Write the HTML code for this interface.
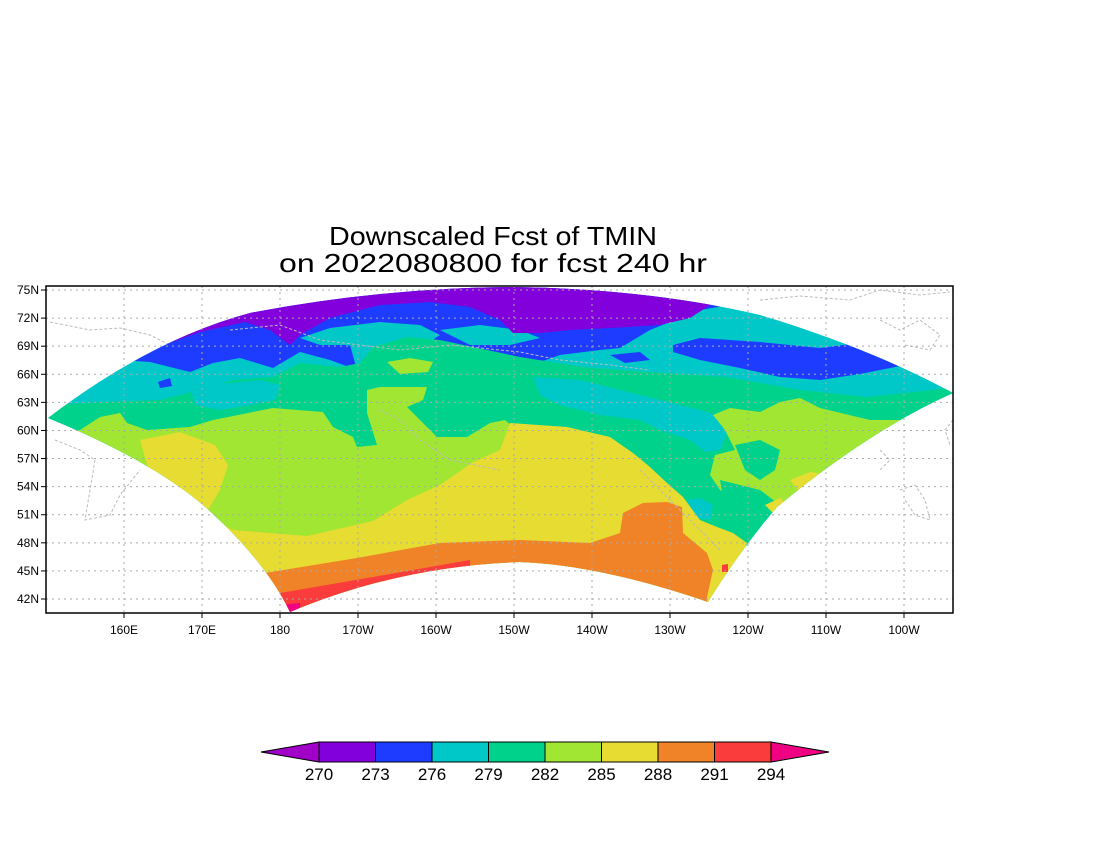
<!DOCTYPE html>
<html><head><meta charset="utf-8"><style>
html,body{margin:0;padding:0;background:#fff;}
svg{display:block;font-family:"Liberation Sans",sans-serif;}
</style></head><body>
<svg id="chart" width="1100" height="850" viewBox="0 0 1100 850" xmlns="http://www.w3.org/2000/svg">
<defs>
<clipPath id="wedge"><path d="M48,418 Q150,340 250,313 Q380,288 513,287 Q650,289 760,315 Q870,348 953,393 Q870,430 777,507 Q740,550 708,602 Q600,565 520,562 Q400,566 290,612 Q265,560 203,505 Q150,460 48,418 Z"/></clipPath>
<clipPath id="frame"><rect x="46" y="286" width="907" height="327"/></clipPath>
</defs>
<text x="493" y="245" font-size="26" text-anchor="middle" textLength="328" lengthAdjust="spacingAndGlyphs">Downscaled Fcst of TMIN</text>
<text x="493" y="272" font-size="26" text-anchor="middle" textLength="428" lengthAdjust="spacingAndGlyphs">on 2022080800 for fcst 240 hr</text>

<g fill="none" stroke="#bbb" stroke-width="1" stroke-dasharray="3,2" clip-path="url(#frame)">
<path d="M50,322 L90,330 L120,328 L150,335 L170,345"/>
<path d="M55,440 L80,450 L95,460 L90,490 L85,520 L110,515 L120,495 L140,470"/>
<path d="M760,300 L800,296 L850,300 L880,290 L920,295 L950,292"/>
<path d="M880,320 L900,330 L920,320 L940,335 L930,350 L905,345"/>
<path d="M953,420 L945,430 L950,445"/>
<path d="M880,450 L890,460 L880,470"/>
<path d="M900,490 L915,485 L925,500 L930,520 L915,515 L905,500"/>
</g>

<g id="map" clip-path="url(#wedge)"></g>

<g id="grid" stroke="#aaa" stroke-width="1" stroke-dasharray="2,4" fill="none"></g>
<rect x="46" y="286" width="907" height="327" fill="none" stroke="#000" stroke-width="1.5"/>
<g id="axes" font-size="12"></g>
<g id="cbar"></g>
</svg>
<script>
const latTicks = [75,72,69,66,63,60,57,54,51,48,45,42];
const lonTicks = [160,170,180,190,200,210,220,230,240,250,260];
const lonLabels = ["160E","170E","180","170W","160W","150W","140W","130W","120W","110W","100W"];
const levels = [270,273,276,279,282,285,288,291,294];
const bandColors = ["#a000c8","#8200dc","#1e3cff","#00c8c8","#00d28c","#a0e632","#e6dc32","#f08228","#fa3c3c","#f00082"];

const NS="http://www.w3.org/2000/svg";
function latToY(lat){return 290+(75-lat)*9.364;}
function lonToX(lon){return 124+(lon-160)*7.8;}
function mk(tag,attrs,parent){const e=document.createElementNS(NS,tag);for(const k in attrs)e.setAttribute(k,attrs[k]);parent.appendChild(e);return e;}

const map=document.getElementById('map');
const regions=[
 ["cyan-base","#00c8c8","M0,250 L1000,250 L1000,650 L0,650 Z"],
 ["blue-north","#1e3cff","M0,250 L1000,250 L1000,300 L760,300 L700,310 L650,330 L620,348 L600,350 L560,355 L540,362 L500,358 L450,350 L400,345 L350,345 L357,370 L330,360 L300,352 L273,368 L240,358 L213,363 L190,372 L150,362 L120,360 L40,380 Z"],
 ["cyan-patch-north","#00c8c8","M300,338 L330,328 L380,322 L420,325 L440,335 L425,345 L400,342 L370,348 L345,345 L320,345 Z"],
 ["cyan-patch-north-2","#00c8c8","M440,330 L480,325 L520,330 L540,338 L510,345 L470,345 Z"],
 ["blue-band-east","#1e3cff","M673,345 L700,338 L760,342 L820,348 L860,343 L900,358 L900,366 L860,374 L820,380 L780,377 L740,368 L700,360 L673,352 Z"],
 ["blue-strip-east","#1e3cff","M720,300 L800,310 L880,340 L960,380 L960,300 Z"],
 ["cyan-east-strip","#00c8c8","M740,320 L800,328 L860,345 L900,355 L870,335 L800,318 Z"],
 ["purple-north","#8200dc","M0,250 L1000,250 L1000,290 L740,303 L710,305 L690,318 L660,325 L610,328 L570,330 L540,333 L513,333 L500,320 L470,307 L430,302 L380,305 L330,318 L300,335 L290,345 L270,330 L245,322 L200,332 L150,350 Z"],
 ["blue-islands","#1e3cff","M158,382 L170,378 L172,386 L160,388 Z M588,383 L600,382 L598,390 L586,389 Z M545,385 L565,384 L560,392 Z M620,385 L640,383 L645,392 L625,395 Z M610,355 L640,352 L650,360 L625,363 Z M500,405 L515,404 L512,412 Z M560,412 L580,410 L590,418 L605,425 L600,432 L575,428 L565,420 Z"],
 ["purple-island","#8200dc","M578,418 L592,416 L600,428 L588,430 Z"],
 ["green-main","#00d28c","M0,420 L55,405 L100,402 L160,400 L200,390 L233,380 L273,377 L300,363 L340,367 L360,363 L373,347 L407,337 L440,340 L473,347 L520,357 L583,367 L650,372 L727,377 L800,390 L867,397 L933,390 L1000,380 L1000,650 L0,650 Z"],
 ["cyan-mid","#00c8c8","M533,377 L580,380 L620,390 L660,400 L700,410 L733,420 L720,450 L705,452 L690,440 L660,430 L640,420 L600,415 L560,405 L540,395 Z"],
 ["cyan-mid-2","#00c8c8","M687,500 L700,498 L713,505 L710,520 L695,518 Z"],
 ["cyan-west","#00c8c8","M190,385 L230,383 L260,380 L280,385 L275,400 L250,405 L220,410 L195,405 Z"],
 ["lime-west","#a0e632","M0,440 L80,430 L100,417 L120,413 L127,423 L147,430 L190,427 L213,420 L273,408 L323,412 L333,427 L353,437 L357,447 L377,445 L367,413 L367,390 L380,387 L427,387 L423,400 L407,407 L437,437 L467,437 L490,423 L505,420 L520,433 L540,430 L600,445 L640,475 L670,505 L700,525 L720,545 L740,560 L740,650 L0,650 Z"],
 ["lime-patch-n","#a0e632","M387,362 L410,358 L433,362 L428,372 L400,374 Z"],
 ["lime-east","#a0e632","M713,415 L730,408 L760,412 L780,402 L800,398 L820,408 L870,420 L900,420 L900,520 L800,520 L780,518 L760,508 L740,500 L720,490 L710,475 L715,455 L735,450 L725,430 Z"],
 ["green-east-patch","#00d28c","M735,445 L760,440 L780,450 L775,470 L760,480 L745,470 Z M720,480 L760,490 L780,505 L770,520 L745,520 L725,510 Z"],
 ["yellow-main","#e6dc32","M140,440 L180,432 L215,445 L228,465 L220,490 L205,515 L233,530 L307,536 L373,521 L407,500 L440,485 L473,462 L500,450 L510,423 L567,427 L610,437 L633,453 L650,467 L667,483 L683,497 L700,520 L717,527 L733,533 L747,543 L740,560 L733,580 L713,600 L713,650 L200,650 Z"],
 ["yellow-east-patches","#e6dc32","M790,480 L810,472 L830,475 L820,490 L800,492 Z M765,505 L780,498 L790,508 L775,515 Z"],
 ["orange-band","#f08228","M200,578 L265,573 L357,558 L440,543 L520,540 L590,543 L620,533 L623,513 L643,503 L667,502 L682,507 L683,533 L707,553 L713,570 L707,597 L707,650 L200,650 Z"],
 ["red-band","#fa3c3c","M200,600 L280,593 L373,577 L470,560 L470,650 L200,650 Z M722,565 L728,564 L728,572 L722,572 Z"],
 ["magenta-tip","#f00082","M280,605 L300,603 L300,620 L280,620 Z"]
];
regions.forEach(r=>{
  const p=mk('path',{d:r[2],fill:r[1]},map);
  
  
});
const coast=mk('path',{d:"M230,330 L280,325 L320,340 L360,345 L400,350 L450,345 L520,352 L560,360 L610,365 L650,370 M380,410 L400,420 L420,440 L450,460 L500,470 M640,470 L660,490 L680,510 L700,530 L720,550",fill:"none",stroke:"#bbb","stroke-dasharray":"3,2"},map);



const grid=document.getElementById('grid'), axes=document.getElementById('axes');
latTicks.forEach(lat=>{
  const y=latToY(lat);
  const gl=mk('line',{x1:46,x2:953,y1:y,y2:y},grid);
  
  
  const tk=mk('line',{x1:41,x2:46,y1:y,y2:y,stroke:"#000"},axes);
  
  
  const t=mk('text',{x:39,y:y+4,"text-anchor":"end"},axes);
  t.textContent=lat+"N";
  
  
});
lonTicks.forEach((lon,i)=>{
  const x=lonToX(lon);
  const gl=mk('line',{x1:x,x2:x,y1:286,y2:613},grid);
  
  
  const tk=mk('line',{x1:x,x2:x,y1:613,y2:618,stroke:"#000"},axes);
  
  
  const t=mk('text',{x:x,y:634,"text-anchor":"middle"},axes);
  t.textContent=lonLabels[i];
  
  
});

const cb=document.getElementById('cbar');
const cbX0=319, cbStep=56.5, cbY=742, cbH=20;
function cbx(i){return cbX0+i*cbStep;}
const n=levels.length;
const lt=mk('polygon',{points:`${cbx(0)},${cbY} ${cbx(0)-58},${cbY+cbH/2} ${cbx(0)},${cbY+cbH}`,fill:bandColors[0],stroke:"#000","stroke-width":1},cb);


for(let i=0;i<n-1;i++){
  const r=mk('rect',{x:cbx(i),y:cbY,width:cbStep,height:cbH,fill:bandColors[i+1],stroke:"#000","stroke-width":1},cb);
  
  
}
const rt=mk('polygon',{points:`${cbx(n-1)},${cbY} ${cbx(n-1)+58},${cbY+cbH/2} ${cbx(n-1)},${cbY+cbH}`,fill:bandColors[n],stroke:"#000","stroke-width":1},cb);


levels.forEach((v,i)=>{
  const t=mk('text',{x:cbx(i),y:780,"text-anchor":"middle","font-size":17},cb);
  t.textContent=v;
  
  
});
</script>
</body></html>
